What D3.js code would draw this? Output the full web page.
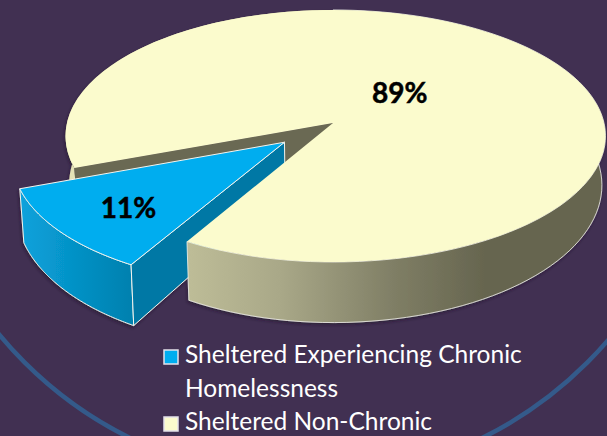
<!DOCTYPE html>
<html>
<head>
<meta charset="utf-8">
<script src="https://d3js.org/d3.v7.min.js"></script>
<style>
  html, body { margin: 0; padding: 0; background: #413052; overflow: hidden; }
  svg { display: block; }
  text { font-family: Lato, "Open Sans", sans-serif; }
</style>
</head>
<body>
<div id="plot"></div>
<script>
// Chart data
var categories = ["Sheltered Experiencing Chronic Homelessness", "Sheltered Non-Chronic"];
var values = [11, 89];
var percentLabels = ["11%", "89%"];
var legendLines = [["Sheltered Experiencing Chronic", "Homelessness"], ["Sheltered Non-Chronic"]];

// Define SVG area dimensions
var svgWidth = 607;
var svgHeight = 436;

var svg = d3.select("#plot")
  .append("svg")
  .attr("width", svgWidth)
  .attr("height", svgHeight);

var defs = svg.append("defs");

// Wall gradients, both run left to right in screen space
function addGradient(id, x1, x2, stops) {
  var g = defs.append("linearGradient")
    .attr("id", id)
    .attr("gradientUnits", "userSpaceOnUse")
    .attr("x1", x1).attr("x2", x2).attr("y1", 0).attr("y2", 0);
  stops.forEach(function(s) {
    g.append("stop").attr("offset", s[0]).attr("stop-color", s[1]);
  });
}
addGradient("creamWall", 190, 600, [[0, "#bdbc97"], [0.22, "#a9a888"], [0.5, "#7f7e65"], [0.72, "#66654f"], [1, "#66654f"]]);
addGradient("blueWall", 20, 134, [[0, "#0aa2dc"], [1, "#0080ae"]]);

var shadow = defs.append("filter").attr("id", "shadow")
  .attr("x", "-5%").attr("y", "-5%").attr("width", "110%").attr("height", "110%");
shadow.append("feDropShadow")
  .attr("dx", -1).attr("dy", 2).attr("stdDeviation", 1.5)
  .attr("flood-color", "#1c1228").attr("flood-opacity", 0.55);

// Background ring of the slide
svg.append("circle")
  .attr("cx", 306).attr("cy", 81).attr("r", 398)
  .attr("fill", "none")
  .attr("stroke", "#345a8a")
  .attr("stroke-width", 4.5);

// Perspective projection of the pie disc onto the screen
var cx = 333, cy = 123, spanLeft = 266, spanRight = 271, spanY = 112, tilt = -0.103;
var explode = 0.235;

function project(u, v, bottom) {
  var w = 1 + tilt * v;
  var x = cx + (u < 0 ? spanLeft : spanRight) * u / w;
  var y = (cy + spanY * v) / w;
  if (bottom) {
    x = cx + (x - cx) * 0.987;
    y = y * 1.09 + 37;
  }
  return [x, y];
}

// Point on the disc at a pie angle (0 at the top, clockwise)
function discPoint(angle, radius, offset) {
  return [offset[0] + radius * Math.sin(angle), offset[1] - radius * Math.cos(angle)];
}

var pie = d3.pie()
  .sort(null)
  .startAngle(210 * Math.PI / 180)
  .endAngle(570 * Math.PI / 180);
var slices = pie(values);

var lineGen = d3.line();

function arcPoints(a0, a1, offset, bottom) {
  var n = 90;
  return d3.range(n + 1).map(function(i) {
    var p = discPoint(a0 + (a1 - a0) * i / n, 1, offset);
    return project(p[0], p[1], bottom);
  });
}

function topPath(slice, offset) {
  var pts = arcPoints(slice.startAngle, slice.endAngle, offset, false);
  pts.unshift(project(offset[0], offset[1], false));
  return lineGen(pts) + "Z";
}

function outerWall(a0, a1, offset) {
  var pts = arcPoints(a0, a1, offset, false)
    .concat(arcPoints(a0, a1, offset, true).reverse());
  return lineGen(pts) + "Z";
}

function radialWall(angle, offset) {
  var p = discPoint(angle, 1, offset);
  return lineGen([
    project(offset[0], offset[1], false),
    project(p[0], p[1], false),
    project(p[0], p[1], true),
    project(offset[0], offset[1], true)
  ]) + "Z";
}

var blue = slices[0];
var cream = slices[1];
var midBlue = (blue.startAngle + blue.endAngle) / 2;
var blueOffset = [explode * Math.sin(midBlue), -explode * Math.cos(midBlue)];
var noOffset = [0, 0];

var edge = "#f4f4ee";
var pieGroup = svg.append("g").attr("filter", "url(#shadow)");

// Back parts of the big slice, the blue slice passes in front of them
pieGroup.append("path")
  .attr("d", outerWall(cream.startAngle, 2 * Math.PI, noOffset))
  .attr("fill", "#e3e2b6");
pieGroup.append("path")
  .attr("d", radialWall(cream.startAngle, noOffset))
  .attr("fill", "#6a6952");

// Exploded blue slice
pieGroup.append("path")
  .attr("d", outerWall(blue.startAngle, blue.endAngle, blueOffset))
  .attr("fill", "url(#blueWall)")
  .attr("stroke", edge).attr("stroke-width", 1).attr("stroke-linejoin", "round");
pieGroup.append("path")
  .attr("d", radialWall(blue.startAngle, blueOffset))
  .attr("fill", "#0078a5")
  .attr("stroke", edge).attr("stroke-width", 1).attr("stroke-linejoin", "round");
pieGroup.append("path")
  .attr("d", topPath(blue, blueOffset))
  .attr("fill", "#00adef")
  .attr("stroke", edge).attr("stroke-width", 1).attr("stroke-linejoin", "round");

// Front wall and top of the big slice
pieGroup.append("path")
  .attr("d", outerWall(2 * Math.PI, cream.endAngle, noOffset))
  .attr("fill", "url(#creamWall)")
  .attr("stroke", edge).attr("stroke-width", 0.8);
pieGroup.append("path")
  .attr("d", topPath(cream, noOffset))
  .attr("fill", "#fbfbcd");

// Percent labels, nudged to where the original sits
var labelRadius = [0.76, 0.34];
var labelNudge = [[12, -1], [-2, -3]];
slices.forEach(function(s, i) {
  var mid = (s.startAngle + s.endAngle) / 2;
  var offset = i === 0 ? blueOffset : noOffset;
  var p = discPoint(mid, labelRadius[i], offset);
  var xy = project(p[0], p[1], false);
  svg.append("text")
    .attr("x", xy[0] + labelNudge[i][0])
    .attr("y", xy[1] + labelNudge[i][1])
    .attr("dy", "0.36em")
    .attr("text-anchor", "middle")
    .attr("font-size", 28)
    .attr("font-weight", 700)
    .attr("fill", "#000")
    .attr("stroke", "#000")
    .attr("stroke-width", 0.5)
    .text(percentLabels[i]);
});

// Legend
var swatchColors = ["#00adef", "#fbfbcd"];
var legendRow = d3.scalePoint()
  .domain(d3.range(3))
  .range([363, 430]);
var rowIndex = 0;
categories.forEach(function(name, i) {
  svg.append("rect")
    .attr("x", 164)
    .attr("y", legendRow(rowIndex) - 13)
    .attr("width", 14)
    .attr("height", 14)
    .attr("fill", swatchColors[i])
    .attr("stroke", "#e4e1ea")
    .attr("stroke-width", 1.5);
  legendLines[i].forEach(function(line) {
    svg.append("text")
      .attr("x", 185)
      .attr("y", legendRow(rowIndex))
      .attr("font-size", 24.5)
      .attr("fill", "#fff")
      .text(line);
    rowIndex++;
  });
});
</script>
</body>
</html>
